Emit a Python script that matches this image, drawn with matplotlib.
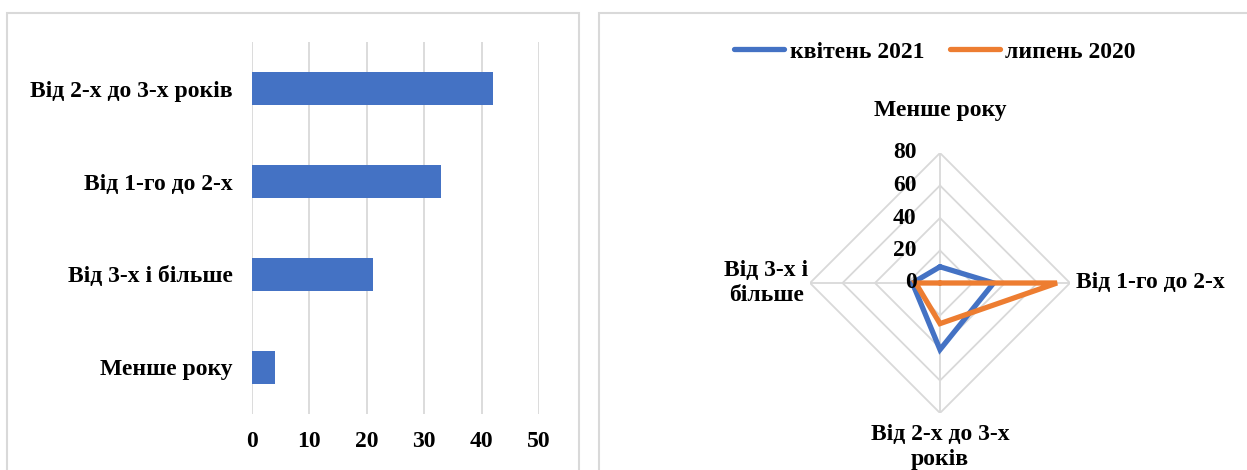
import matplotlib.pyplot as plt
import matplotlib.patches as patches
import numpy as np

plt.rcParams['font.family'] = ['Liberation Serif', 'DejaVu Serif']
plt.rcParams['font.weight'] = 'bold'

# bar chart data (bottom -> top)
bar_labels = ['Менше року', 'Від 3-х і більше', 'Від 1-го до 2-х', 'Від 2-х до 3-х років']
bar_values = [4, 21, 33, 42]

# radar data, clockwise from the top
radar_labels = ['Менше року', 'Від 1-го до 2-х', 'Від 2-х до 3-х\nроків', 'Від 3-х і\nбільше']
apr_2021 = [10, 33, 41, 17]
jul_2020 = [0, 72, 25, 15]
series_names = ['квітень 2021', 'липень 2020']

blue = '#4472C4'
orange = '#ED7D31'
grid_c = '#D9D9D9'
W, H = 1247, 470
FS = 17

fig = plt.figure(figsize=(W / 100, H / 100), dpi=100)

# panel borders
for x0, x1 in [(7, 579), (599, 1260)]:
    fig.add_artist(patches.Rectangle((x0 / W, -0.1), (x1 - x0) / W, 1.1 - 13 / H,
                                     transform=fig.transFigure, fill=False,
                                     edgecolor=grid_c, lw=1.5))

# ---- left: horizontal bars
ax = fig.add_axes([252 / W, 1 - 414 / H, (539 - 252) / W, (414 - 42) / H])
y = np.arange(len(bar_labels))
ax.barh(y, bar_values, height=0.35, color=blue, zorder=3)
ax.set_xlim(0, 50)
ax.set_ylim(-0.5, 3.5)
ax.set_xticks(range(0, 51, 10))
ax.set_yticks(y)
ax.set_yticklabels(bar_labels)
ax.tick_params(length=0, labelsize=FS)
ax.tick_params(axis='x', pad=12)
ax.tick_params(axis='y', pad=14)
ax.grid(axis='x', color=grid_c, lw=1.3, zorder=0)
for s in ax.spines.values():
    s.set_visible(False)

# ---- right: radar
R = 80
rx = fig.add_axes([(940 - 130) / W, 1 - (283 + 130) / H, 260 / W, 260 / H], projection='polar')
rx.set_theta_offset(np.pi / 2)
rx.set_theta_direction(-1)
rx.set_ylim(0, R)
rx.grid(False)
rx.spines['polar'].set_visible(False)
rx.set_xticks([])
rx.set_yticks([])

angles = np.linspace(0, 2 * np.pi, len(radar_labels), endpoint=False)
closed = np.append(angles, angles[0])
for r in range(20, R + 1, 20):
    rx.plot(closed, [r] * len(closed), color=grid_c, lw=1.3, zorder=1)
for a in angles:
    rx.plot([a, a], [0, R], color=grid_c, lw=1.3, zorder=1)

for vals, c, name in [(apr_2021, blue, series_names[0]), (jul_2020, orange, series_names[1])]:
    rx.plot(closed, vals + vals[:1], color=c, lw=3.8, solid_joinstyle='miter',
            solid_capstyle='round', label=name, zorder=3)

for r in range(0, R + 1, 20):
    rx.annotate(str(r), (0, r), xytext=(-17, 0), textcoords='offset points',
                ha='right', va='center', fontsize=FS, annotation_clip=False)

rx.text(angles[0], 106, radar_labels[0], ha='center', va='center', fontsize=FS)
rx.text(angles[1], 84, radar_labels[1], ha='left', va='center', fontsize=FS)
rx.text(angles[2], 87, radar_labels[2], ha='center', va='top', fontsize=FS, multialignment='center')
rx.text(angles[3], 81, radar_labels[3], ha='right', va='center', fontsize=FS, multialignment='center')

fig.legend(loc='center', bbox_to_anchor=(935 / W, 1 - 52 / H), ncol=2, frameon=False,
           fontsize=FS, handlelength=2.1, handletextpad=0.25, columnspacing=1.1)

fig.savefig('out.png', dpi=100)
